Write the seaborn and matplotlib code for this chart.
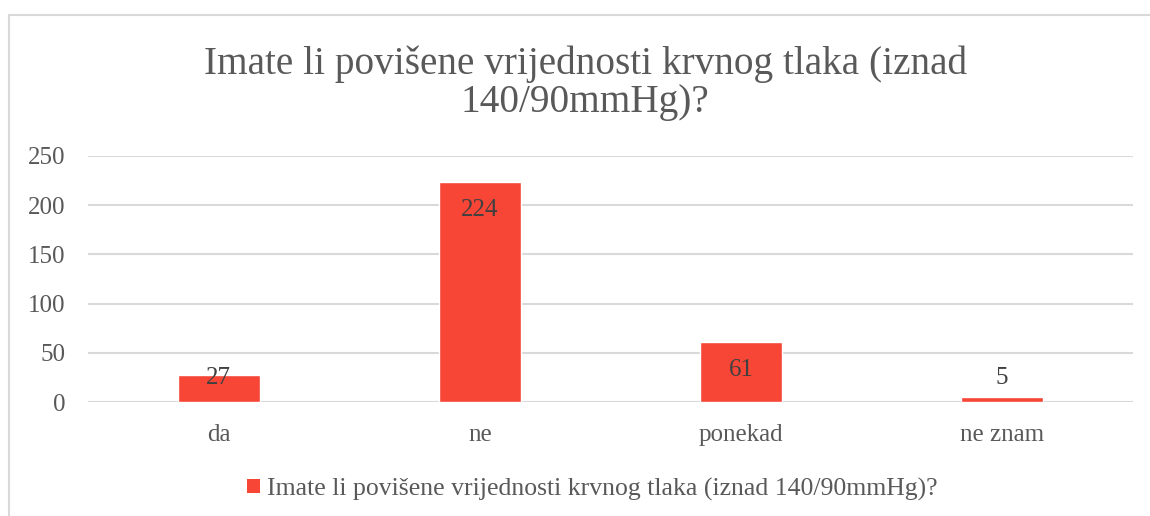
import matplotlib
matplotlib.use("Agg")
import matplotlib.pyplot as plt
from matplotlib.lines import Line2D
from matplotlib.patches import Patch
import seaborn as sns
import pandas as pd

# chart data
categories = ["da", "ne", "ponekad", "ne znam"]
counts = [27, 224, 61, 5]
series_name = "Imate li povišene vrijednosti krvnog tlaka (iznad 140/90mmHg)?"
title_text = "Imate li povišene vrijednosti krvnog tlaka (iznad\n140/90mmHg)?"
yticks = [0, 50, 100, 150, 200, 250]

bar_color = "#F74536"
text_color = "#595959"
grid_color = "#D9D9D9"

sns.set_style("white")
plt.rcParams["font.family"] = ["Liberation Serif", "DejaVu Serif"]

df = pd.DataFrame({"kategorija": categories, "broj": counts})

fig = plt.figure(figsize=(11.5, 5.16), dpi=100)
ax = fig.add_axes([0.0765, 0.2209, 0.9085, 0.4768])

sns.barplot(data=df, x="kategorija", y="broj", color=bar_color, width=0.314,
            saturation=1, ax=ax, zorder=3)

ax.set_ylim(0, 250)
ax.set_yticks(yticks)
ax.set_xlim(-0.5, len(categories) - 0.5)
ax.yaxis.grid(True, color=grid_color, linewidth=1.5, zorder=0)
ax.set_axisbelow(True)
for s in ax.spines.values():
    s.set_visible(False)
ax.set_xlabel("")
ax.set_ylabel("")
ax.tick_params(axis="both", length=0, labelsize=18, labelcolor=text_color)
ax.tick_params(axis="x", pad=16)
ax.tick_params(axis="y", pad=16)

# data labels at inside end, kept clear of the axis for short bars
for i, v in enumerate(counts):
    y = max(v - 28.5, 24.4)
    ax.text(i, y, str(v), ha="center", va="center", fontsize=18,
            color="#404040", zorder=4)

fig.text(0.509, 0.839, title_text, ha="center", va="center", fontsize=28.3,
         color=text_color, linespacing=1.03)

handle = Patch(facecolor=bar_color, edgecolor="none")
fig.legend([handle], [series_name], loc="center", bbox_to_anchor=(0.515, 0.052),
           frameon=False, fontsize=18.5, labelcolor=text_color,
           handlelength=0.5, handleheight=0.5, handletextpad=0.3)

# light chart border (top and left edges visible in the crop)
fig.add_artist(Line2D([9 / 1150, 1.0], [1 - 15 / 516, 1 - 15 / 516],
                      transform=fig.transFigure, color=grid_color, linewidth=1.5))
fig.add_artist(Line2D([9 / 1150, 9 / 1150], [0.0, 1 - 15 / 516],
                      transform=fig.transFigure, color=grid_color, linewidth=1.5))

fig.savefig("out.png", dpi=100, facecolor="white")
